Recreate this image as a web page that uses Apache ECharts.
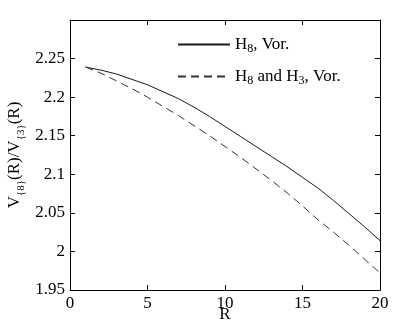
<!DOCTYPE html>
<html><head><meta charset="utf-8">
<script src="https://cdn.jsdelivr.net/npm/echarts@6/dist/echarts.min.js"></script>
<style>html,body{margin:0;padding:0;background:#fff}#c{width:399px;height:333px}</style>
</head><body><div id="c"></div>
<script>
var R = [1, 2, 3, 4, 5, 6, 7, 8, 9, 10, 11, 12, 13, 14, 15, 16, 17, 18, 19, 20];
var vor8 = [2.239, 2.235, 2.230, 2.223, 2.216, 2.207, 2.198, 2.187, 2.175, 2.162,
            2.149, 2.136, 2.123, 2.110, 2.096, 2.082, 2.066, 2.049, 2.032, 2.014];
var vor83 = [2.239, 2.231, 2.221, 2.211, 2.200, 2.188, 2.176, 2.163, 2.150, 2.136,
             2.122, 2.107, 2.092, 2.076, 2.059, 2.041, 2.025, 2.008, 1.990, 1.972];
var yTicks = ['1.95', '2', '2.05', '2.1', '2.15', '2.2', '2.25'];
var xTicks = ['0', '5', '10', '15', '20'];
var seriesNames = ['H8, Vor.', 'H8 and H3, Vor.'];
var yNameParts = [['V', 0], ['{8}', 1], ['(R)/V', 0], ['{3}', 1], ['(R)', 0]];

var FONT = "'Liberation Serif', 'Times New Roman', serif";
var chart = echarts.init(document.getElementById('c'), null, {renderer: 'canvas'});
function pairs(xs, ys) { return xs.map(function (x, i) { return [x, ys[i]]; }); }

// y-axis title built from text pieces (subscripts lowered)
var mctx = document.createElement('canvas').getContext('2d');
function textW(s, size) { mctx.font = size + 'px ' + FONT; return mctx.measureText(s).width; }
var MAIN = 17, SUB = 11, SUB_SHIFT = 6.5;
var cum = 0, nameChildren = [];
yNameParts.forEach(function (p) {
  var size = p[1] ? SUB : MAIN;
  nameChildren.push({type: 'text', x: cum, y: p[1] ? SUB_SHIFT : 0, silent: true,
    style: {text: p[0], font: size + 'px ' + FONT, fill: '#000', align: 'left', verticalAlign: 'middle'}});
  cum += textW(p[0], size);
});

var axisLine = {show: true, onZero: false, lineStyle: {color: '#000', width: 1}};
var tick = {show: true, inside: true, length: 5, lineStyle: {color: '#000', width: 1}};
chart.setOption({
  animation: false,
  backgroundColor: '#fff',
  grid: {left: 70, right: 19, top: 20, bottom: 43, containLabel: false, outerBoundsMode: 'none'},
  graphic: [{type: 'group', x: 14.3, y: 155 + cum / 2, rotation: Math.PI / 2, children: nameChildren}],
  legend: {
    left: 177, top: 34, padding: 0, orient: 'vertical', itemWidth: 52, itemHeight: 14, itemGap: 3,
    itemStyle: {opacity: 0},
    data: seriesNames,
    formatter: function (n) {
      if (n === seriesNames[0]) return '{n|H}{s|8}{n|, Vor.}';
      return '{n|H}{s|8}{n| and H}{s|3}{n|, Vor.}';
    },
    textStyle: {
      fontFamily: FONT, color: '#000',
      rich: {
        n: {fontFamily: FONT, fontSize: 17, color: '#000', verticalAlign: 'top', lineHeight: 17, padding: [0, 0, 10, 0]},
        s: {fontFamily: FONT, fontSize: 12, color: '#000', lineHeight: 12, padding: [9, 0, 0, 0]}
      }
    }
  },
  xAxis: [{
    type: 'value', min: 0, max: 20, interval: 5, position: 'bottom',
    axisLine: axisLine, axisTick: tick, splitLine: {show: false},
    axisLabel: {fontFamily: FONT, fontSize: 17, color: '#000', margin: 5,
      formatter: function (v) { var i = Math.round(v / 5); return xTicks[i] !== undefined ? xTicks[i] : ''; }},
    name: 'R', nameLocation: 'middle', nameGap: 16, nameMoveOverlap: false,
    nameTextStyle: {fontFamily: FONT, fontSize: 17, color: '#000'}
  }, {
    type: 'value', min: 0, max: 20, interval: 5, position: 'top',
    axisLine: axisLine, axisTick: tick, splitLine: {show: false}, axisLabel: {show: false}
  }],
  yAxis: [{
    type: 'value', min: 1.95, max: 2.3, interval: 0.05, position: 'left',
    axisLine: axisLine, axisTick: tick, splitLine: {show: false},
    axisLabel: {fontFamily: FONT, fontSize: 17, color: '#000', margin: 5,
      formatter: function (v) { var i = Math.round((v - 1.95) / 0.05); return yTicks[i] !== undefined ? yTicks[i] : ''; }}
  }, {
    type: 'value', min: 1.95, max: 2.3, interval: 0.05, position: 'right',
    axisLine: axisLine, axisTick: tick, splitLine: {show: false}, axisLabel: {show: false}
  }],
  series: [{
    name: seriesNames[0], type: 'line', data: pairs(R, vor8), smooth: false, symbol: 'none',
    lineStyle: {color: '#1a1a1a', width: 1, type: 'solid'}, itemStyle: {color: '#1a1a1a'}
  }, {
    name: seriesNames[1], type: 'line', data: pairs(R, vor83), smooth: false, symbol: 'none',
    lineStyle: {color: '#333', width: 1, type: [8, 5]}, itemStyle: {color: '#333'}
  }]
});
</script></body></html>
